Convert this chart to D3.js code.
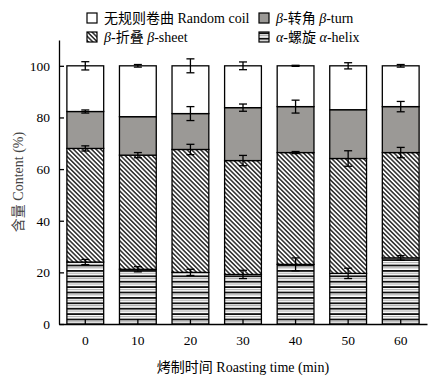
<!DOCTYPE html>
<html>
<head>
<meta charset="utf-8">
<script src="https://cdn.jsdelivr.net/npm/d3@7"></script>
<style>
  body { margin: 0; background: #fff; }
  svg text { font-family: "Liberation Serif", "Noto Sans CJK SC", serif; fill: #000; }
</style>
</head>
<body>
<div id="chart"></div>
<script>
'use strict';

// Roasting time (min)
var times = ['0', '10', '20', '30', '40', '50', '60'];

// Secondary structure content (%), stacked bottom to top
var helix = [24.0, 21.2, 20.0, 19.2, 23.1, 19.6, 25.6];
var sheet = [44.0, 44.2, 47.6, 44.1, 43.3, 44.5, 40.8];
var turn = [14.3, 14.9, 13.9, 20.5, 17.8, 18.9, 17.8];
var coil = [17.7, 19.7, 18.5, 16.2, 15.8, 17.0, 15.8];

// Standard deviations for each layer
var helixErr = [1.0, 1.0, 1.2, 1.6, 2.5, 2.0, 0.9];
var sheetErr = [1.0, 1.0, 2.0, 2.0, 0.4, 3.0, 2.0];
var turnErr = [0.6, 0, 2.7, 1.4, 2.5, 0, 2.0];
var coilErr = [1.6, 0.5, 2.7, 1.5, 0.2, 1.2, 0.5];

var yTicks = [0, 20, 40, 60, 80, 100];

var width = 444, height = 384;
var margin = { top: 40, right: 17, bottom: 60, left: 59 };

var svg = d3.select('#chart').append('svg')
  .attr('width', width)
  .attr('height', height);

var defs = svg.append('defs');

// diagonal hatch for beta-sheet
var hatch = defs.append('pattern')
  .attr('id', 'hatch')
  .attr('patternUnits', 'userSpaceOnUse')
  .attr('width', 3.2)
  .attr('height', 3.2)
  .attr('patternTransform', 'rotate(-45)');
hatch.append('rect').attr('width', 3.2).attr('height', 3.2).attr('fill', '#fff');
hatch.append('line')
  .attr('x1', 0.8).attr('y1', 0).attr('x2', 0.8).attr('y2', 3.2)
  .attr('stroke', '#2a2a2a').attr('stroke-width', 1.5);

// horizontal stripes for alpha-helix
var stripes = defs.append('pattern')
  .attr('id', 'stripes')
  .attr('patternUnits', 'userSpaceOnUse')
  .attr('width', 8)
  .attr('height', 5.4);
stripes.append('rect').attr('width', 8).attr('height', 5.4).attr('fill', '#fff');
stripes.append('rect').attr('y', 0).attr('width', 8).attr('height', 1.8).attr('fill', '#111');
stripes.append('rect').attr('y', 2.8).attr('width', 8).attr('height', 1).attr('fill', '#a0a0a0');

var layers = [
  { key: 'helix', values: helix, err: helixErr, fill: 'url(#stripes)' },
  { key: 'sheet', values: sheet, err: sheetErr, fill: 'url(#hatch)' },
  { key: 'turn', values: turn, err: turnErr, fill: '#9b9996' },
  { key: 'coil', values: coil, err: coilErr, fill: '#fff' }
];

var x = d3.scaleBand()
  .domain(times)
  .range([margin.left, width - margin.right])
  .paddingInner(0.3)
  .paddingOuter(0.15);

var y = d3.scaleLinear()
  .domain([0, 110])
  .range([height - margin.bottom, margin.top]);

// cumulative stack
var rows = times.map(function(t, i) {
  var base = 0;
  return layers.map(function(l) {
    var seg = { t: t, y0: base, y1: base + l.values[i], err: l.err[i], fill: l.fill };
    base = seg.y1;
    return seg;
  });
});

var g = svg.append('g');

rows.forEach(function(segs) {
  g.selectAll(null)
    .data(segs)
    .enter().append('rect')
    .attr('x', function(d) { return x(d.t); })
    .attr('y', function(d) { return y(d.y1); })
    .attr('width', x.bandwidth())
    .attr('height', function(d) { return y(d.y0) - y(d.y1); })
    .attr('fill', function(d) { return d.fill; })
    .attr('stroke', '#000')
    .attr('stroke-width', 1.3);
});

// error bars
var cap = 4;
rows.forEach(function(segs) {
  segs.forEach(function(d) {
    if (!d.err) return;
    var cx = x(d.t) + x.bandwidth() / 2;
    var top = y(d.y1 + d.err), bot = y(d.y1 - d.err);
    var eb = g.append('g').attr('stroke', '#000').attr('stroke-width', 1.3);
    eb.append('line').attr('x1', cx).attr('x2', cx).attr('y1', top).attr('y2', bot);
    eb.append('line').attr('x1', cx - cap).attr('x2', cx + cap).attr('y1', top).attr('y2', top);
    eb.append('line').attr('x1', cx - cap).attr('x2', cx + cap).attr('y1', bot).attr('y2', bot);
  });
});

// axes
var yAxis = d3.axisLeft(y).tickValues(yTicks).tickSizeInner(-5).tickSizeOuter(0).tickPadding(9);
var ya = svg.append('g')
  .attr('transform', 'translate(' + margin.left + ',0)')
  .call(yAxis);
ya.selectAll('text').attr('font-size', 13.5);

var xAxis = d3.axisBottom(x).tickSizeInner(-5).tickSizeOuter(0).tickPadding(11);
var xa = svg.append('g')
  .attr('transform', 'translate(0,' + (height - margin.bottom) + ')')
  .call(xAxis);
xa.selectAll('text').attr('font-size', 13.5);

svg.selectAll('.domain, .tick line').attr('stroke', '#000').attr('stroke-width', 1.3);

// axis titles
svg.append('text')
  .attr('x', (margin.left + width - margin.right) / 2)
  .attr('y', 372)
  .attr('text-anchor', 'middle')
  .attr('font-size', 14)
  .text('烤制时间 Roasting time (min)');

svg.append('text')
  .attr('transform', 'translate(23,' + y(55) + ') rotate(-90)')
  .attr('text-anchor', 'middle')
  .attr('font-size', 14)
  .style('fill', '#444')
  .text('含量 Content (%)');

// legend
var legend = [
  { x: 87, y: 18, fill: '#fff', parts: [['无规则卷曲 Random coil', false]] },
  { x: 259, y: 18, fill: '#9b9996', parts: [['β', true], ['-转角 ', false], ['β', true], ['-turn', false]] },
  { x: 87, y: 37, fill: 'url(#hatch)', parts: [['β', true], ['-折叠 ', false], ['β', true], ['-sheet', false]] },
  { x: 259, y: 37, fill: 'url(#stripes)', parts: [['α', true], ['-螺旋 ', false], ['α', true], ['-helix', false]] }
];

legend.forEach(function(l) {
  svg.append('rect')
    .attr('x', l.x).attr('y', l.y - 5)
    .attr('width', 10).attr('height', 10)
    .attr('fill', l.fill)
    .attr('stroke', '#000').attr('stroke-width', 1.2);
  var t = svg.append('text')
    .attr('x', l.x + 17).attr('y', l.y + 5)
    .attr('font-size', 14);
  l.parts.forEach(function(p) {
    t.append('tspan').attr('font-style', p[1] ? 'italic' : null).text(p[0]);
  });
});
</script>
</body>
</html>
